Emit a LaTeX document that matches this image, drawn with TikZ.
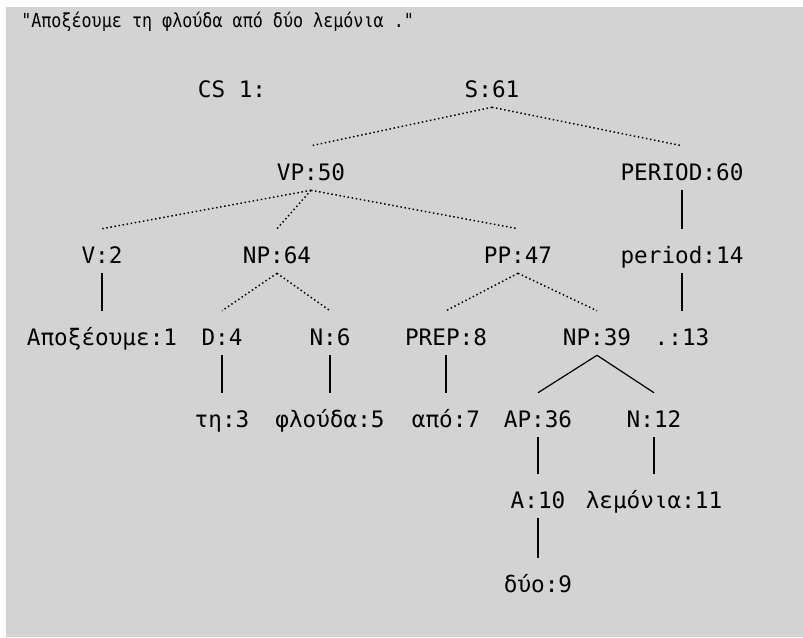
\documentclass[tikz,border=0pt]{standalone}
\usepackage{fontspec}
\setmonofont{DejaVu Sans Mono}
\usetikzlibrary{positioning}
\definecolor{panelgray}{RGB}{211,211,211}

\begin{document}
\begin{tikzpicture}[x=0.75pt,y=-0.75pt,
  lab/.style={font=\ttfamily\fontsize{17}{17}\selectfont,anchor=base,inner sep=0pt,
    text height=25.5pt,text depth=7.5pt},
  dotedge/.style={line width=1.1pt,dash pattern=on 1.1pt off 2pt},
  solidedge/.style={line width=0.9pt}]

  \useasboundingbox (0,0) rectangle (803,637);
  \fill[white] (0,0) rectangle (803,637);
  \fill[panelgray] (6,7) rectangle (803,637);

  % sentence
  \node[anchor=base west,inner sep=0pt,font=\ttfamily\fontsize{14.5}{14.5}\selectfont] (title) at (21,27)
  {\scalebox{0.865}[1]{"Αποξέουμε τη φλούδα από δύο λεμόνια ."}};

  % row 1
  \node[lab] (cs) at (232,97) {CS 1:};
  \node[lab] (s61) at (492,97) {S:61};

  % row 2
  \node[lab] (vp50) at (311,180) {VP:50};
  \node[lab] (period60) at (682,180) {PERIOD:60};

  % row 3
  \node[lab] (v2) at (102,263) {V:2};
  \node[lab] (np64) at (277,263) {NP:64};
  \node[lab] (pp47) at (518,263) {PP:47};
  \node[lab] (period14) at (682,263) {period:14};

  % row 4
  \node[lab] (w1) at (102,345) {Αποξέουμε:1};
  \node[lab] (d4) at (222,345) {D:4};
  \node[lab] (n6) at (330,345) {N:6};
  \node[lab] (prep8) at (446,345) {PREP:8};
  \node[lab] (np39) at (597,345) {NP:39};
  \node[lab] (dot13) at (682,345) {.:13};

  % row 5
  \node[lab] (w3) at (222,427) {τη:3};
  \node[lab] (w5) at (330,427) {φλούδα:5};
  \node[lab] (w7) at (446,427) {από:7};
  \node[lab] (ap36) at (538,427) {AP:36};
  \node[lab] (n12) at (654,427) {N:12};

  % rows 6 and 7
  \node[lab] (a10) at (538,508) {A:10};
  \node[lab] (w11) at (654,508) {λεμόνια:11};
  \node[lab] (w9) at (538,592) {δύο:9};

  % dotted branches
  \draw[dotedge] (s61.south) -- (vp50.north);
  \draw[dotedge] (s61.south) -- (period60.north);
  \draw[dotedge] (vp50.south) -- (v2.north);
  \draw[dotedge] (vp50.south) -- (np64.north);
  \draw[dotedge] (vp50.south) -- (pp47.north);
  \draw[dotedge] (np64.south) -- (d4.north);
  \draw[dotedge] (np64.south) -- (n6.north);
  \draw[dotedge] (pp47.south) -- (prep8.north);
  \draw[dotedge] (pp47.south) -- (np39.north);

  % solid branches
  \draw[solidedge] (np39.south) -- (ap36.north);
  \draw[solidedge] (np39.south) -- (n12.north);
  \draw[solidedge] (period60.south) -- (period14.north);
  \draw[solidedge] (period14.south) -- (dot13.north);
  \draw[solidedge] (v2.south) -- (w1.north);
  \draw[solidedge] (d4.south) -- (w3.north);
  \draw[solidedge] (n6.south) -- (w5.north);
  \draw[solidedge] (prep8.south) -- (w7.north);
  \draw[solidedge] (ap36.south) -- (a10.north);
  \draw[solidedge] (n12.south) -- (w11.north);
  \draw[solidedge] (a10.south) -- (w9.north);

\end{tikzpicture}
\end{document}
